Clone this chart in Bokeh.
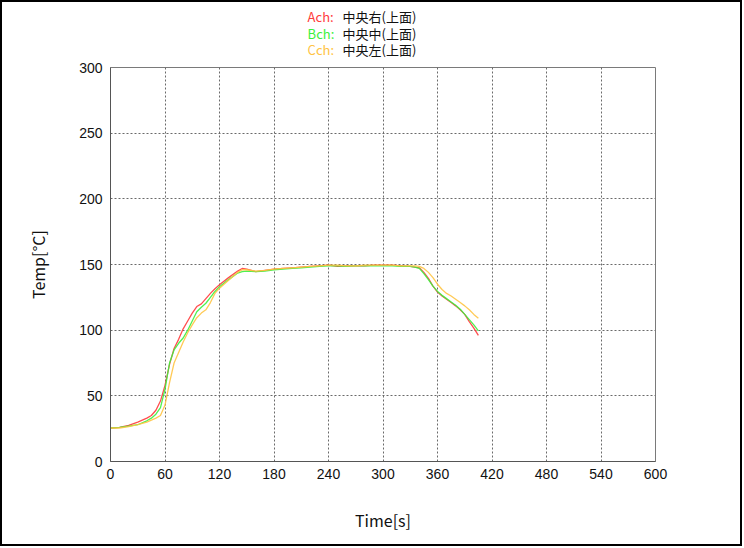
from bokeh.plotting import figure
from bokeh.layouts import column
from bokeh.models import Range1d, FixedTicker
from bokeh.core.properties import value
from bokeh.embed import file_html
from bokeh.resources import INLINE

# ---- data ----
time_s = [0, 10, 20, 30, 40, 45, 50, 55, 60, 65, 70, 75, 80, 85, 90, 95, 100, 105, 110, 115,
          120, 130, 140, 145, 150, 160, 170, 180, 190, 200, 210, 220, 230, 240, 250, 260, 270,
          280, 290, 300, 310, 320, 330, 335, 340, 345, 350, 355, 360, 365, 370, 375, 380, 385,
          390, 395, 400, 405]

ach = [25.5, 26, 27.5, 30, 33, 35, 39, 46, 58, 74, 86, 93, 101, 107, 113, 118, 120, 124, 128, 131.5,
       134.5, 140, 145, 147, 146.5, 144.5, 145.5, 146.5, 147, 147.5, 148, 148.5, 149, 149.5, 148.5, 149, 149,
       149, 149.5, 149.5, 149.5, 149, 148.5, 148, 147.5, 144, 139.5, 133.5, 129, 126, 123.5, 121, 118.5, 115.5,
       112, 106.5, 101.5, 96]

bch = [25.5, 26, 27, 28, 31, 33, 36, 41, 55, 75, 85, 90, 94, 100, 107, 114, 117.5, 120.5, 125, 129.5,
       133, 138.5, 143.5, 144.5, 145, 144.5, 145, 146, 146.5, 147, 147.5, 148, 148.5, 149, 149, 148.5, 149,
       149, 149, 149, 149, 148.5, 148.5, 148, 147, 143, 138.5, 133.5, 129.5, 126.5, 124, 121.5, 119, 116,
       112, 108, 104, 99.5]

cch = [25.5, 25.5, 26.5, 28, 30, 31.5, 33, 35, 43, 60, 75, 83, 91, 98, 104, 109.5, 113, 115.5, 121, 128,
       132, 138, 144, 146, 146, 145, 145.5, 146.5, 147, 147.5, 148, 148.5, 149, 149.5, 149.5, 149, 149,
       149.5, 149.5, 149.5, 149.5, 149, 149, 149, 148.5, 147, 144, 140, 135, 131, 128, 126, 123.5, 121,
       118.5, 115.5, 112, 109]

x_ticks = [0, 60, 120, 180, 240, 300, 360, 420, 480, 540, 600]
y_ticks = [0, 50, 100, 150, 200, 250, 300]

series_names = ["Ach:", "Bch:", "Cch:"]
series_desc = ["中央右(上面)", "中央中(上面)", "中央左(上面)"]
series_colors = ["#ff3b3b", "#3cf03c", "#ffc444"]

FONT = "Noto Sans CJK JP"
NUM_FONT = "Liberation Sans"
W = 742          # outer width incl. 2px borders
TOP_H = 57       # legend strip (canvas)
BORDER = "2px solid black"
ML, MR = 108, 89

x_range = Range1d(0, 600)

# ---- legend strip (text above the chart), sharing the chart's x scale ----
top = figure(width=W, height=TOP_H + 2, output_backend="svg", toolbar_location=None,
             x_range=x_range, y_range=Range1d(TOP_H, 0),
             min_border_left=ML, min_border_right=MR, min_border_top=0, min_border_bottom=0,
             styles={"border-top": BORDER, "border-left": BORDER, "border-right": BORDER})
top.axis.visible = False
top.grid.visible = False
top.outline_line_color = None

row_y = [13.5, 29.5, 45]
top.text(x=[217] * 3, y=row_y, text=series_names, text_color=series_colors,
         text_font=value(FONT), text_font_size=value("13px"),
         text_baseline="middle", text_align="left")
top.text(x=[255.5] * 3, y=row_y, text=series_desc, text_color="#111111",
         text_font=value(FONT), text_font_size=value("13px"),
         text_baseline="middle", text_align="left")

# ---- main chart ----
p = figure(width=W, height=487, output_backend="svg", toolbar_location=None,
           x_range=x_range, y_range=Range1d(0, 300),
           min_border_left=ML, min_border_right=MR, min_border_top=8, min_border_bottom=85,
           styles={"border-bottom": BORDER, "border-left": BORDER, "border-right": BORDER})

p.outline_line_color = "#7a7a7a"
p.outline_line_width = 1

for g in (p.xgrid[0], p.ygrid[0]):
    g.grid_line_color = "#6a6a6a"
    g.grid_line_dash = "2 2"
    g.grid_line_width = 1

for ax in (p.xaxis[0], p.yaxis[0]):
    ax.major_tick_in = 0
    ax.major_tick_out = 0
    ax.minor_tick_in = 0
    ax.minor_tick_out = 0
    ax.axis_line_color = "#555555"
    ax.major_label_text_font = NUM_FONT
    ax.major_label_text_font_size = "14px"
    ax.major_label_text_color = "#111111"
    ax.axis_label_text_font = FONT
    ax.axis_label_text_font_size = "16px"
    ax.axis_label_text_font_style = "normal"
    ax.axis_label_text_color = "#111111"

p.xaxis[0].ticker = FixedTicker(ticks=x_ticks)
p.yaxis[0].ticker = FixedTicker(ticks=y_ticks)
p.xaxis[0].major_label_standoff = 7
p.yaxis[0].major_label_standoff = 8
p.xaxis[0].axis_label = "Time[s]"
p.yaxis[0].axis_label = "Temp[°C]"
p.xaxis[0].axis_label_standoff = 26
p.yaxis[0].axis_label_standoff = 26

for ys, c in zip([ach, bch, cch], series_colors):
    p.line(time_s, ys, line_color=c, line_width=1.3, line_alpha=0.9)

layout = column(top, p, spacing=0)
open("out.html", "w").write(file_html(layout, INLINE))
